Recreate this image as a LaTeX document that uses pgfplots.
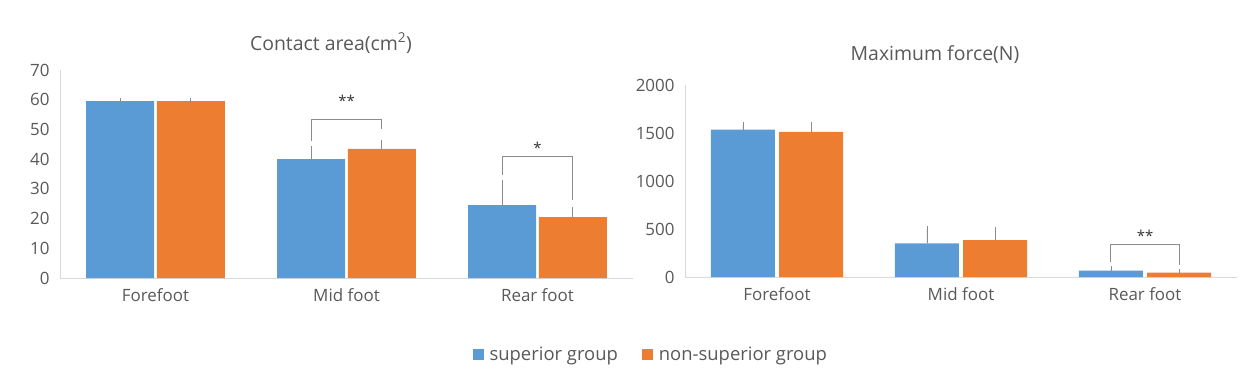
\documentclass[border=0pt]{standalone}
\usepackage{pgfplots}
\pgfplotsset{compat=1.18}
\usepackage{fontspec}
\setmainfont{Open Sans}
\definecolor{cblue}{HTML}{5B9BD5}
\definecolor{corange}{HTML}{ED7D31}
\definecolor{txt}{HTML}{595959}
\definecolor{axln}{HTML}{D9D9D9}
\definecolor{errc}{HTML}{8C8C8C}

\pgfplotsset{
  mybar/.style={
    scale only axis,
    ybar,
    xmin=-0.5, xmax=2.5, ymin=0,
    xtick={0,1,2}, xticklabels={Forefoot,Mid foot,Rear foot},
    axis x line*=bottom, axis y line*=left,
    axis line style={axln, line width=1pt, -},
    major tick length=0pt,
    tick style={draw=none},
    tick label style={font=\fontsize{17}{20}\selectfont, text=txt},
    /pgf/number format/assume math mode=true,
    /pgf/number format/1000 sep={},
    yticklabel style={xshift=-7bp},
    xticklabel style={yshift=-7bp},
    clip=false,
  },
  errstyle/.style={
    error bars/y dir=plus, error bars/y explicit,
    error bars/error mark=-,
    error bars/error bar style={errc, line width=0.8pt},
    error bars/error mark options={errc, mark size=2.5bp, line width=0.8pt}},
  bluebar/.style={fill=cblue, draw=none, bar width=#1, errstyle,
    legend image code/.code={\fill[cblue] (0bp,-5.5bp) rectangle (11bp,5.5bp);}},
  orangebar/.style={fill=corange, draw=none, bar width=#1, errstyle,
    legend image code/.code={\fill[corange] (0bp,-5.5bp) rectangle (11bp,5.5bp);}},
}

\begin{document}
\begin{tikzpicture}
\useasboundingbox (0,0) rectangle (1251bp,-387bp);

\node[text=txt, font=\fontsize{19.5}{23}\selectfont] at (331bp,-43bp) {Contact area(cm\textsuperscript{2})};
\node[text=txt, font=\fontsize{19.5}{23}\selectfont] at (935bp,-55bp) {Maximum force(N)};

\begin{axis}[mybar,
  at={(60bp,-278bp)}, anchor=south west,
  width=573bp, height=208bp,
  ymax=70, ytick={0,10,...,70},
  legend columns=2,
  legend style={at={(1.031,-0.37)}, anchor=center, draw=none, fill=none,
    font=\fontsize{18.5}{22}\selectfont, text=txt,
    /tikz/every odd column/.append style={column sep=4bp},
    /tikz/every even column/.append style={column sep=22bp}},
]
\addplot[bluebar=0.356, bar shift=-0.185] coordinates {
  (0,59.5) +- (0,0.1)
  (1,40.0) +- (0,3.5)
  (2,24.5) +- (0,7.5)
};
\addplot[orangebar=0.356, bar shift=0.185] coordinates {
  (0,59.5) +- (0,0.1)
  (1,43.5) +- (0,2.0)
  (2,20.5) +- (0,2.5)
};
\legend{superior group, non-superior group}
\draw[errc, line width=1pt] (axis cs:0.815,46) -- (axis cs:0.815,53.5) -- (axis cs:1.185,53.5) -- (axis cs:1.185,50);
\node[font=\fontsize{15}{18}\selectfont, text=black!80] at (axis cs:1,59.6) {**};
\draw[errc, line width=1pt] (axis cs:1.815,34.7) -- (axis cs:1.815,40.8) -- (axis cs:2.185,40.8) -- (axis cs:2.185,26.3);
\node[font=\fontsize{15}{18}\selectfont, text=black!80] at (axis cs:2,43.8) {*};
\end{axis}

\begin{axis}[mybar,
  at={(685bp,-277bp)}, anchor=south west,
  width=552bp, height=192bp,
  ymax=2000, ytick={0,500,...,2000},
]
\addplot[bluebar=0.348, bar shift=-0.185] coordinates {
  (0,1535) +- (0,55)
  (1,351) +- (0,156)
  (2,66) +- (0,24)
};
\addplot[orangebar=0.348, bar shift=0.185] coordinates {
  (0,1513) +- (0,77)
  (1,385) +- (0,115)
  (2,45) +- (0,17)
};
\draw[errc, line width=1pt] (axis cs:1.815,160) -- (axis cs:1.815,340) -- (axis cs:2.185,340) -- (axis cs:2.185,125);
\node[font=\fontsize{15}{18}\selectfont, text=black!80] at (axis cs:2,430) {**};
\end{axis}
\end{tikzpicture}
\end{document}
